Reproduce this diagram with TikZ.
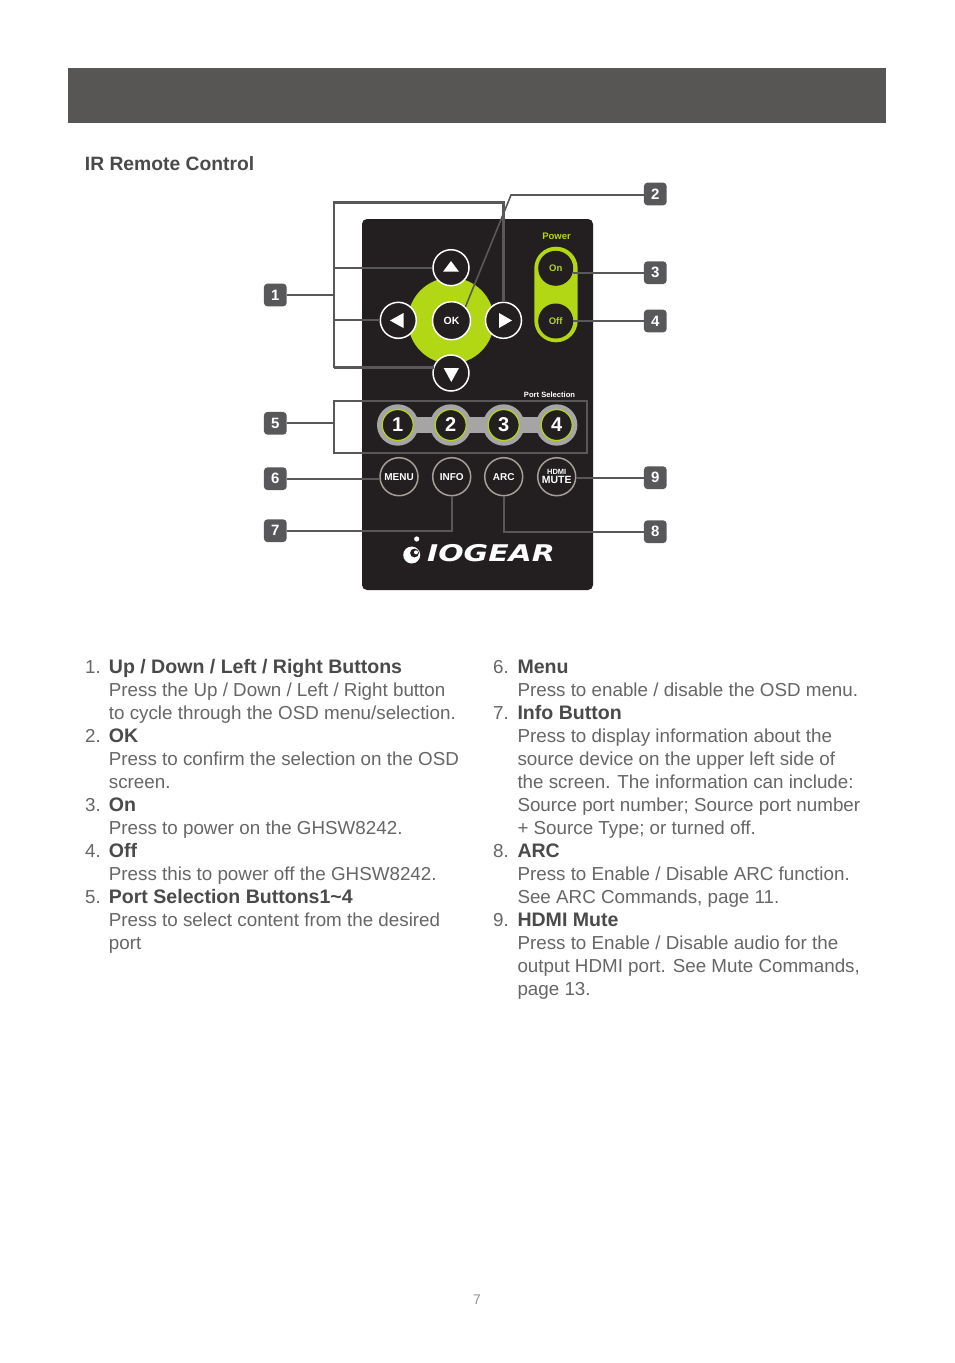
\documentclass[tikz,border=0pt]{standalone}
\usepackage{fontspec}
\setmainfont{Liberation Sans}
\newfontfamily\logofont{DejaVu Sans}
\definecolor{hdr}{HTML}{575654}
\definecolor{rem}{HTML}{231F20}
\definecolor{lime}{HTML}{B2D714}
\definecolor{wire}{HTML}{58585A}
\definecolor{ring}{HTML}{A59F99}
\definecolor{portgray}{HTML}{A6A4A4}
\definecolor{bodytxt}{HTML}{666666}
\definecolor{headtxt}{HTML}{4A4A4A}
\tikzset{
  badge/.style={draw=none,fill=wire,rounded corners=3.5pt,minimum width=22.7pt,minimum height=22.7pt,inner sep=0pt,text=white,font=\bfseries\fontsize{15}{15}\selectfont},
  wirethin/.style={draw=wire,line width=1.6pt},
  wirethick/.style={draw=wire,line width=2.3pt},
  navbtn/.style={circle,draw=white,line width=1.5pt,fill=rem,minimum size=36pt,inner sep=0pt},
  powerbtn/.style={circle,draw=none,fill=rem,minimum size=35pt,inner sep=0pt,text=lime,font=\bfseries\fontsize{9.5}{10}\selectfont},
  portouter/.style={circle,draw=none,fill=portgray,minimum size=41.4pt,inner sep=0pt},
  portinner/.style={circle,draw=lime,line width=1.2pt,fill=rem,minimum size=31pt,inner sep=0pt,text=white,font=\bfseries\fontsize{20}{20}\selectfont},
  funcbtn/.style={circle,draw=ring,line width=1.5pt,fill=rem,minimum size=38pt,inner sep=0pt,text=white,align=center,font=\bfseries\fontsize{10}{10}\selectfont},
  num/.style={anchor=base west,inner sep=0pt,text=bodytxt,font=\fontsize{18.8}{23}\selectfont},
  body/.style={anchor=base west,inner sep=0pt,text=bodytxt,font=\fontsize{18.8}{23}\selectfont},
  head/.style={anchor=base west,inner sep=0pt,text=headtxt,font=\bfseries\fontsize{19.55}{23}\selectfont},
}
\begin{document}
\begin{tikzpicture}[x=1pt,y=-1pt]
\useasboundingbox (0,0) rectangle (954,1363);
\fill[white] (0,0) rectangle (954,1363);
\fill[hdr] (68,68) rectangle (886,123);
\node[head,font=\bfseries\fontsize{19.3}{23}\selectfont] (title) at (84.7,170) {IR Remote Control};

% remote body
\fill[rem,rounded corners=5pt] (362,219) rectangle (593,590);
\node[circle,fill=lime,minimum size=86pt,inner sep=0pt] (dpad) at (451,320.7) {};
\fill[lime,rounded corners=21.7pt] (534.3,246.7) rectangle (577.7,342.3);
\node[inner sep=0pt,text=lime,font=\bfseries\fontsize{9.5}{9}\selectfont] (powerlbl) at (556.5,236.5) {Power};
\node[powerbtn] (on) at (555.7,268.3) {On};
\node[powerbtn] (off) at (555.7,321) {Off};

\node[navbtn] (up) at (451,267.7) {};
\node[navbtn] (left) at (398.3,320.3) {};
\node[navbtn] (right) at (503.5,320.3) {};
\node[navbtn] (down) at (451,373) {};
\node[navbtn,minimum size=38pt,text=white,font=\bfseries\fontsize{10.5}{10}\selectfont] (ok) at (451.5,320.7) {OK};
\fill[white] (443,271.7) -- (459,271.7) -- (451,261) -- cycle;
\fill[white] (403.5,313) -- (403.5,328) -- (390,320.5) -- cycle;
\fill[white] (499,313) -- (499,328) -- (512,320.5) -- cycle;
\fill[white] (443.7,368) -- (459,368) -- (451.3,382) -- cycle;

% port selection
\node[inner sep=0pt,text=white,font=\bfseries\fontsize{7.6}{8}\selectfont] (portlbl) at (549.5,395) {Port Selection};
\fill[portgray] (398,417.3) rectangle (556,432.7);
\foreach \n/\x/\t in {a/397.7/1,b/450.7/2,c/503.7/3,d/556.7/4}{
  \node[portouter] (po\n) at (\x,425) {};
  \node[portinner] (pi\n) at (\x,425) {\t};
}

% function buttons
\node[funcbtn] (menu) at (399,476.7) {MENU};
\node[funcbtn] (info) at (451.7,476.7) {INFO};
\node[funcbtn] (arc) at (503.7,476.7) {ARC};
\node[funcbtn,font=\bfseries\fontsize{10.5}{10}\selectfont] (hdmi) at (556.7,476.7) {{\fontsize{7.5}{8}\selectfont HDMI}\\[-1.5pt]MUTE};

% logo
\node[inner sep=0pt,text=white,font=\logofont\bfseries\itshape\fontsize{23}{23}\selectfont] (logo) at (491,553.5) {\scalebox{1.3}[1]{IOGEAR}};
\fill[white] (416.7,539) circle (2.6);
\fill[white] (411.7,555) circle (8.5);
\fill[rem] (414.5,553) circle (4.4);
\fill[white] (416,552.3) circle (2);

% badges
\node[badge] (n1) at (275.3,295) {1};
\node[badge] (n2) at (655.3,194) {2};
\node[badge] (n3) at (655.3,272.7) {3};
\node[badge] (n4) at (655.3,321) {4};
\node[badge] (n5) at (275.3,423.3) {5};
\node[badge] (n6) at (275.3,478.7) {6};
\node[badge] (n7) at (275.3,530.7) {7};
\node[badge] (n8) at (655.3,531.7) {8};
\node[badge] (n9) at (655.3,477.7) {9};

% junctions
\coordinate (jtop) at (333.7,202.5);
\coordinate (jtr) at (503.5,202.5);
\coordinate (jup) at (333.7,267.7);
\coordinate (jleft) at (333.7,320.3);
\coordinate (jdown) at (333.7,367.5);
\coordinate (jdownend) at (434,367.5);
\coordinate (j2) at (511,195);
\coordinate (box5nw) at (333.7,400.7);
\coordinate (box5se) at (587.3,452.7);

% connectors
\draw[wirethick] (n1.east) -- (n1.east -| jtop);
\draw[wirethick,line join=miter] (jdown) -- (jtop) -- (jtr) -- (right.north);
\draw[wirethick] (jup) -- (up.west);
\draw[wirethick] (jleft) -- (left.west);
\draw[wirethick] (jdown) -- (jdownend);
\draw[wirethin] (n2.west |- j2) -- (j2) -- (ok.north east);
\draw[wirethin] (on.east |- n3.west) -- (n3.west);
\draw[wirethin] (off.east) -- (n4.west);
\draw[wirethick] (n5.east) -- (n5.east -| box5nw);
\draw[wirethick] (box5nw) rectangle (box5se);
\draw[wirethin] (n6.east) -- (menu.west |- n6.east);
\draw[wirethin] (n7.east) -- (n7.east -| info.south) -- (info.south);
\draw[wirethin] (n8.west) -- (n8.west -| arc.south) -- (arc.south);
\draw[wirethin] (hdmi.east |- n9.west) -- (n9.west);

% left column
\node[num] (l1n) at (85,673.3) {1.};
\node[head] (l1) at (108.7,673.3) {Up / Down / Left / Right Buttons};
\node[body] (l1a) at (108.7,696.3) {Press the Up / Down / Left / Right button};
\node[body] (l1b) at (108.7,719.3) {to cycle through the OSD menu/selection.};
\node[num] (l2n) at (85,742.3) {2.};
\node[head] (l2) at (108.7,742.3) {OK};
\node[body] (l2a) at (108.7,765.3) {Press to confirm the selection on the OSD};
\node[body] (l2b) at (108.7,788.3) {screen.};
\node[num] (l3n) at (85,811.3) {3.};
\node[head] (l3) at (108.7,811.3) {On};
\node[body] (l3a) at (108.7,834.3) {Press to power on the GHSW8242.};
\node[num] (l4n) at (85,857.3) {4.};
\node[head] (l4) at (108.7,857.3) {Off};
\node[body] (l4a) at (108.7,880.3) {Press this to power off the GHSW8242.};
\node[num] (l5n) at (85,903.3) {5.};
\node[head] (l5) at (108.7,903.3) {Port Selection Buttons1\char`~4};
\node[body] (l5a) at (108.7,926.3) {Press to select content from the desired};
\node[body] (l5b) at (108.7,949.3) {port};

% right column
\node[num] (r6n) at (493,673.3) {6.};
\node[head] (r6) at (517.3,673.3) {Menu};
\node[body] (r6a) at (517.3,696.3) {Press to enable / disable the OSD menu.};
\node[num] (r7n) at (493,719.3) {7.};
\node[head] (r7) at (517.3,719.3) {Info Button};
\node[body] (r7a) at (517.3,742.3) {Press to display information about the};
\node[body] (r7b) at (517.3,765.3) {source device on the upper left side of};
\node[body] (r7c) at (517.3,788.3) {the screen. The information can include:};
\node[body] (r7d) at (517.3,811.3) {Source port number; Source port number};
\node[body] (r7e) at (517.3,834.3) {+ Source Type; or turned off.};
\node[num] (r8n) at (493,857.3) {8.};
\node[head] (r8) at (517.3,857.3) {ARC};
\node[body] (r8a) at (517.3,880.3) {Press to Enable / Disable ARC function.};
\node[body] (r8b) at (517.3,903.3) {See ARC Commands, page 11.};
\node[num] (r9n) at (493,926.3) {9.};
\node[head] (r9) at (517.3,926.3) {HDMI Mute};
\node[body] (r9a) at (517.3,949.3) {Press to Enable / Disable audio for the};
\node[body] (r9b) at (517.3,972.3) {output HDMI port. See Mute Commands,};
\node[body] (r9c) at (517.3,995.3) {page 13.};

\node[inner sep=0pt,text=bodytxt!70,font=\fontsize{14}{14}\selectfont] (pageno) at (477,1299.5) {7};
\end{tikzpicture}
\end{document}
